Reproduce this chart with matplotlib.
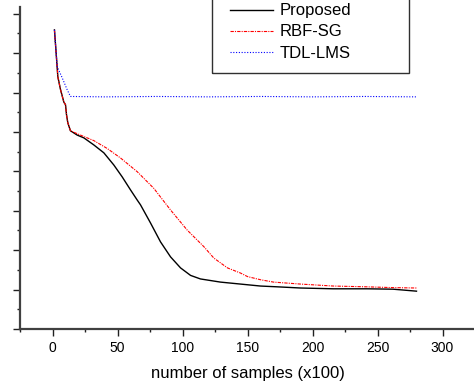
import matplotlib
matplotlib.use('Agg')
import matplotlib.pyplot as plt
from matplotlib.patches import Rectangle
from matplotlib.ticker import MultipleLocator

plt.rcParams['font.family'] = ['Liberation Sans', 'DejaVu Sans']

# values (x in units of 100 samples, y in arbitrary units)
x_prop = [1.5, 2.8, 4.1, 6.2, 8.7, 10, 10.8, 11.8, 13.8, 19, 24.1, 31.8, 39.5, 47.2, 53.6, 60,
          65.2, 67.7, 75.4, 83.1, 90.8, 98.5, 106.2, 113.8, 129.2, 144.6, 160, 173, 190.8,
          216, 242, 262, 280]
y_prop = [7.59, 7.0, 6.40, 6.07, 5.76, 5.69, 5.43, 5.23, 5.03, 4.92, 4.85, 4.67, 4.47, 4.16, 3.86, 3.53,
          3.27, 3.15, 2.69, 2.21, 1.83, 1.55, 1.36, 1.27, 1.19, 1.14, 1.09, 1.07, 1.04,
          1.02, 1.02, 1.01, 0.96]

x_rbf = [1.5, 2.8, 4.1, 6.2, 8.7, 10, 10.8, 11.8, 13.8, 21.5, 31.8, 42.1, 52.3, 65.2, 77.9,
         90.8, 103.6, 116.4, 124.1, 134.6, 144.6, 150, 160, 170, 190.8, 216, 242, 262, 280]
y_rbf = [7.59, 7.0, 6.40, 6.07, 5.76, 5.69, 5.43, 5.23, 5.03, 4.92, 4.78, 4.58, 4.34, 3.99, 3.57,
         3.02, 2.51, 2.09, 1.80, 1.55, 1.42, 1.33, 1.25, 1.19, 1.14, 1.09, 1.07, 1.05, 1.04]

x_tdl = [1.5, 2.8, 3.6, 7.5, 11.3, 13.8, 40, 80, 120, 160, 200, 240, 280]
y_tdl = [7.59, 7.0, 6.66, 6.37, 6.07, 5.90, 5.89, 5.90, 5.89, 5.90, 5.89, 5.90, 5.89]

labels = ['Proposed', 'RBF-SG', 'TDL-LMS']

fig = plt.figure(figsize=(4.74, 3.84), dpi=100)
ax = fig.add_axes([20/474, 55/384, 455/474, 322/384])

ax.plot(x_prop, y_prop, color='black', lw=1.0, label=labels[0])
ax.plot(x_rbf, y_rbf, color='red', lw=0.8, ls=(0, (3, 1, 1, 1)), label=labels[1])
ax.plot(x_tdl, y_tdl, color='blue', lw=0.8, ls=(0, (1, 1.5)), label=labels[2])

ax.set_xlim(-25, 325)
ax.set_ylim(0, 8.17)
ax.xaxis.set_major_locator(MultipleLocator(50))
ax.xaxis.set_minor_locator(MultipleLocator(25))
ax.yaxis.set_major_locator(MultipleLocator(1))
ax.yaxis.set_minor_locator(MultipleLocator(0.5))
ax.set_yticklabels([])
ax.tick_params(which='major', direction='out', length=5, width=1, labelsize=10, color='#202020')
ax.tick_params(which='minor', direction='out', length=2.5, width=1, color='#202020')
for side in ['top', 'right']:
    ax.spines[side].set_visible(False)
for side in ['left', 'bottom']:
    ax.spines[side].set_linewidth(1.6)
    ax.spines[side].set_color('#404040')

ax.set_xlabel('number of samples (x100)', fontsize=12, labelpad=8)

fig.patches.append(Rectangle((212/474, 311/384), 197/474, 0.3, transform=fig.transFigure,
                             fill=False, edgecolor='#303030', lw=1.0))
fig.legend(loc='center left', bbox_to_anchor=(230/474, 352/384), bbox_transform=fig.transFigure,
           frameon=False, fontsize=12, handlelength=2.6, handletextpad=0.36,
           borderpad=0, borderaxespad=0, labelspacing=0.36)

fig.savefig('out.png', dpi=100)
